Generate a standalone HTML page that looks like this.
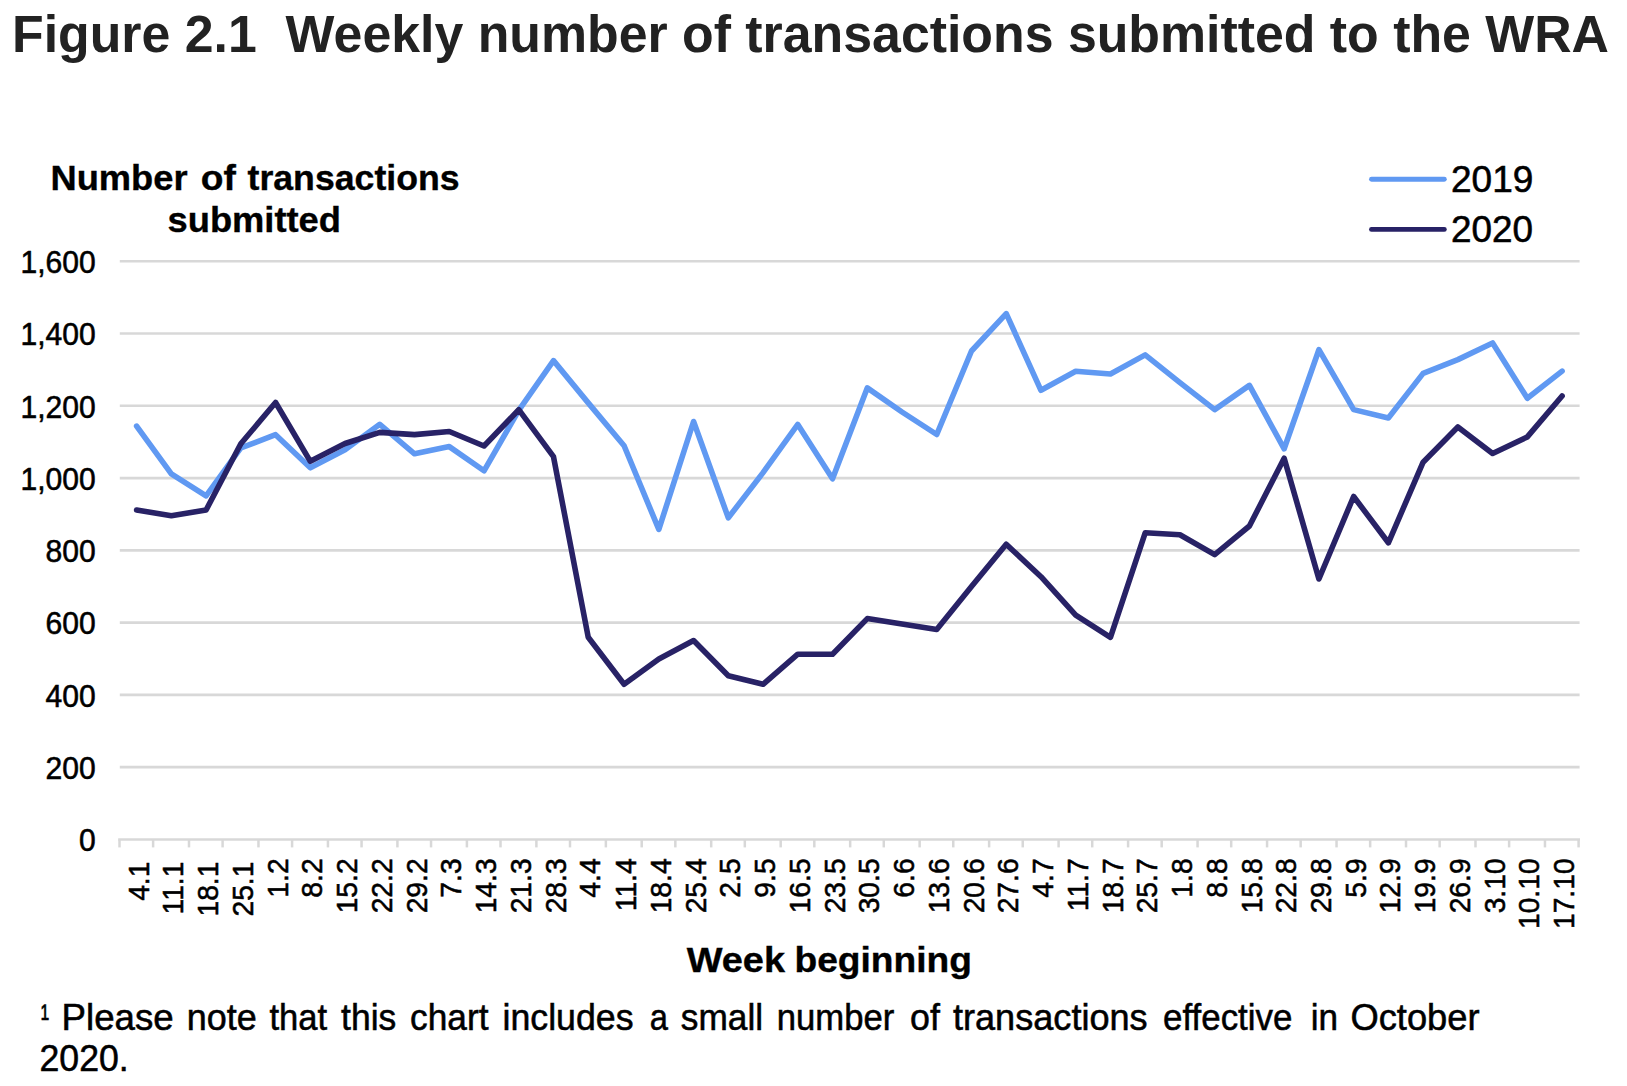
<!DOCTYPE html>
<html lang="en">
<head>
<meta charset="utf-8">
<title>Figure 2.1 Weekly number of transactions submitted to the WRA</title>
<style>
html,body{margin:0;padding:0;background:#fff;}
body{width:1627px;height:1086px;overflow:hidden;position:relative;font-family:"Liberation Sans", Arial, sans-serif;}
svg{position:absolute;left:0;top:0;display:block;}
text{font-family:"Liberation Sans", Arial, sans-serif;}
.t{font-weight:bold;fill:#222;}
.b{font-weight:bold;fill:#000;stroke:#000;stroke-width:0.35px;}
.n{fill:#000;stroke:#000;stroke-width:0.55px;}
</style>
</head>
<body>
<svg width="1627" height="1086" viewBox="0 0 1627 1086">

<text class="t" x="12.03" y="51.80" font-size="52.7" textLength="1597.03" lengthAdjust="spacingAndGlyphs" xml:space="preserve" style="white-space:pre">Figure 2.1  Weekly number of transactions submitted to the WRA</text>
<g stroke="#d8d8d8" stroke-width="2.55" fill="none">
<line x1="118.2" y1="839.40" x2="1580.0" y2="839.40" stroke-width="2.5"/>
<line x1="119.8" y1="767.14" x2="1579.6" y2="767.14"/>
<line x1="119.8" y1="694.88" x2="1579.6" y2="694.88"/>
<line x1="119.8" y1="622.62" x2="1579.6" y2="622.62"/>
<line x1="119.8" y1="550.36" x2="1579.6" y2="550.36"/>
<line x1="119.8" y1="478.10" x2="1579.6" y2="478.10"/>
<line x1="119.8" y1="405.84" x2="1579.6" y2="405.84"/>
<line x1="119.8" y1="333.58" x2="1579.6" y2="333.58"/>
<line x1="119.8" y1="261.32" x2="1579.6" y2="261.32"/>
</g>
<g stroke="#d8d8d8" stroke-width="2.5" fill="none">
<line x1="119.50" y1="839.40" x2="119.50" y2="847.40"/>
<line x1="153.12" y1="839.40" x2="153.12" y2="847.40"/>
<line x1="188.98" y1="839.40" x2="188.98" y2="847.40"/>
<line x1="222.60" y1="839.40" x2="222.60" y2="847.40"/>
<line x1="258.46" y1="839.40" x2="258.46" y2="847.40"/>
<line x1="292.08" y1="839.40" x2="292.08" y2="847.40"/>
<line x1="327.94" y1="839.40" x2="327.94" y2="847.40"/>
<line x1="361.56" y1="839.40" x2="361.56" y2="847.40"/>
<line x1="397.42" y1="839.40" x2="397.42" y2="847.40"/>
<line x1="431.04" y1="839.40" x2="431.04" y2="847.40"/>
<line x1="466.90" y1="839.40" x2="466.90" y2="847.40"/>
<line x1="500.52" y1="839.40" x2="500.52" y2="847.40"/>
<line x1="536.38" y1="839.40" x2="536.38" y2="847.40"/>
<line x1="570.00" y1="839.40" x2="570.00" y2="847.40"/>
<line x1="605.86" y1="839.40" x2="605.86" y2="847.40"/>
<line x1="641.72" y1="839.40" x2="641.72" y2="847.40"/>
<line x1="675.34" y1="839.40" x2="675.34" y2="847.40"/>
<line x1="711.20" y1="839.40" x2="711.20" y2="847.40"/>
<line x1="744.82" y1="839.40" x2="744.82" y2="847.40"/>
<line x1="780.68" y1="839.40" x2="780.68" y2="847.40"/>
<line x1="814.30" y1="839.40" x2="814.30" y2="847.40"/>
<line x1="850.16" y1="839.40" x2="850.16" y2="847.40"/>
<line x1="883.78" y1="839.40" x2="883.78" y2="847.40"/>
<line x1="919.64" y1="839.40" x2="919.64" y2="847.40"/>
<line x1="953.26" y1="839.40" x2="953.26" y2="847.40"/>
<line x1="989.12" y1="839.40" x2="989.12" y2="847.40"/>
<line x1="1022.74" y1="839.40" x2="1022.74" y2="847.40"/>
<line x1="1058.60" y1="839.40" x2="1058.60" y2="847.40"/>
<line x1="1092.22" y1="839.40" x2="1092.22" y2="847.40"/>
<line x1="1128.09" y1="839.40" x2="1128.09" y2="847.40"/>
<line x1="1161.70" y1="839.40" x2="1161.70" y2="847.40"/>
<line x1="1197.57" y1="839.40" x2="1197.57" y2="847.40"/>
<line x1="1231.18" y1="839.40" x2="1231.18" y2="847.40"/>
<line x1="1267.05" y1="839.40" x2="1267.05" y2="847.40"/>
<line x1="1300.67" y1="839.40" x2="1300.67" y2="847.40"/>
<line x1="1336.53" y1="839.40" x2="1336.53" y2="847.40"/>
<line x1="1370.15" y1="839.40" x2="1370.15" y2="847.40"/>
<line x1="1406.01" y1="839.40" x2="1406.01" y2="847.40"/>
<line x1="1439.63" y1="839.40" x2="1439.63" y2="847.40"/>
<line x1="1475.49" y1="839.40" x2="1475.49" y2="847.40"/>
<line x1="1509.11" y1="839.40" x2="1509.11" y2="847.40"/>
<line x1="1544.97" y1="839.40" x2="1544.97" y2="847.40"/>
<line x1="1578.59" y1="839.40" x2="1578.59" y2="847.40"/>
</g>
<g class="n" font-size="30.6" text-anchor="end">
<text transform="translate(95.6,851.1) scale(0.982,1)">0</text>
<text transform="translate(95.6,778.8) scale(0.982,1)">200</text>
<text transform="translate(95.6,706.6) scale(0.982,1)">400</text>
<text transform="translate(95.6,634.3) scale(0.982,1)">600</text>
<text transform="translate(95.6,562.1) scale(0.982,1)">800</text>
<text transform="translate(95.6,489.8) scale(0.982,1)">1,000</text>
<text transform="translate(95.6,417.5) scale(0.982,1)">1,200</text>
<text transform="translate(95.6,345.3) scale(0.982,1)">1,400</text>
<text transform="translate(95.6,273.0) scale(0.982,1)">1,600</text>
</g>
<g class="n" font-size="30.2" text-anchor="end">
<text transform="translate(148.71,861.6) rotate(-90) scale(0.9345,1)">4.1</text>
<text transform="translate(183.45,861.6) rotate(-90) scale(0.9345,1)">11.1</text>
<text transform="translate(218.19,861.6) rotate(-90) scale(0.9345,1)">18.1</text>
<text transform="translate(252.93,861.6) rotate(-90) scale(0.9345,1)">25.1</text>
<text transform="translate(287.67,858.4) rotate(-90) scale(0.9345,1)">1.2</text>
<text transform="translate(322.41,858.4) rotate(-90) scale(0.9345,1)">8.2</text>
<text transform="translate(357.15,858.4) rotate(-90) scale(0.9345,1)">15.2</text>
<text transform="translate(391.89,858.4) rotate(-90) scale(0.9345,1)">22.2</text>
<text transform="translate(426.63,858.4) rotate(-90) scale(0.9345,1)">29.2</text>
<text transform="translate(461.37,858.4) rotate(-90) scale(0.9345,1)">7.3</text>
<text transform="translate(496.11,858.4) rotate(-90) scale(0.9345,1)">14.3</text>
<text transform="translate(530.85,858.4) rotate(-90) scale(0.9345,1)">21.3</text>
<text transform="translate(565.59,858.4) rotate(-90) scale(0.9345,1)">28.3</text>
<text transform="translate(600.33,858.4) rotate(-90) scale(0.9345,1)">4.4</text>
<text transform="translate(636.19,858.4) rotate(-90) scale(0.9345,1)">11.4</text>
<text transform="translate(670.93,858.4) rotate(-90) scale(0.9345,1)">18.4</text>
<text transform="translate(705.67,858.4) rotate(-90) scale(0.9345,1)">25.4</text>
<text transform="translate(740.41,858.4) rotate(-90) scale(0.9345,1)">2.5</text>
<text transform="translate(775.15,858.4) rotate(-90) scale(0.9345,1)">9.5</text>
<text transform="translate(809.89,858.4) rotate(-90) scale(0.9345,1)">16.5</text>
<text transform="translate(844.63,858.4) rotate(-90) scale(0.9345,1)">23.5</text>
<text transform="translate(879.37,858.4) rotate(-90) scale(0.9345,1)">30.5</text>
<text transform="translate(914.11,858.4) rotate(-90) scale(0.9345,1)">6.6</text>
<text transform="translate(948.85,858.4) rotate(-90) scale(0.9345,1)">13.6</text>
<text transform="translate(983.59,858.4) rotate(-90) scale(0.9345,1)">20.6</text>
<text transform="translate(1018.33,858.4) rotate(-90) scale(0.9345,1)">27.6</text>
<text transform="translate(1053.07,858.4) rotate(-90) scale(0.9345,1)">4.7</text>
<text transform="translate(1087.81,858.4) rotate(-90) scale(0.9345,1)">11.7</text>
<text transform="translate(1122.55,858.4) rotate(-90) scale(0.9345,1)">18.7</text>
<text transform="translate(1157.29,858.4) rotate(-90) scale(0.9345,1)">25.7</text>
<text transform="translate(1192.03,858.4) rotate(-90) scale(0.9345,1)">1.8</text>
<text transform="translate(1226.78,858.4) rotate(-90) scale(0.9345,1)">8.8</text>
<text transform="translate(1261.52,858.4) rotate(-90) scale(0.9345,1)">15.8</text>
<text transform="translate(1296.26,858.4) rotate(-90) scale(0.9345,1)">22.8</text>
<text transform="translate(1331.00,858.4) rotate(-90) scale(0.9345,1)">29.8</text>
<text transform="translate(1365.74,858.4) rotate(-90) scale(0.9345,1)">5.9</text>
<text transform="translate(1400.48,858.4) rotate(-90) scale(0.9345,1)">12.9</text>
<text transform="translate(1435.22,858.4) rotate(-90) scale(0.9345,1)">19.9</text>
<text transform="translate(1469.96,858.4) rotate(-90) scale(0.9345,1)">26.9</text>
<text transform="translate(1504.70,858.4) rotate(-90) scale(0.9345,1)">3.10</text>
<text transform="translate(1539.44,858.4) rotate(-90) scale(0.9345,1)">10.10</text>
<text transform="translate(1574.18,858.4) rotate(-90) scale(0.9345,1)">17.10</text>
</g>
<polyline points="136.61,426.1 171.35,473.9 206.09,495.8 240.83,447.9 275.57,434.7 310.31,467.8 345.05,449.7 379.79,424.3 414.53,453.8 449.27,446.6 484.01,470.8 518.75,410.3 553.49,360.6 588.23,402.9 624.09,445.8 658.83,529.4 693.57,421.5 728.31,517.8 763.05,472.6 797.79,424.4 832.53,478.8 867.27,387.9 902.01,412.0 936.75,434.5 971.49,351.0 1006.23,313.6 1040.97,390.3 1075.71,371.2 1110.45,374.0 1145.19,354.9 1179.93,382.6 1214.68,409.6 1249.42,385.4 1284.16,448.8 1318.90,349.7 1353.64,409.6 1388.38,418.0 1423.12,373.4 1457.86,359.6 1492.60,343.0 1527.34,398.3 1562.08,371.1" fill="none" stroke="#6099f2" stroke-width="5.6" stroke-linejoin="round" stroke-linecap="round"/>
<polyline points="136.61,510.0 171.35,515.8 206.09,510.0 240.83,443.8 275.57,402.5 310.31,461.3 345.05,443.5 379.79,432.4 414.53,434.6 449.27,431.5 484.01,446.0 518.75,409.7 553.49,456.7 588.23,637.2 624.09,684.3 658.83,659.0 693.57,640.5 728.31,675.8 763.05,684.3 797.79,654.2 832.53,654.2 867.27,618.6 902.01,623.9 936.75,629.4 971.49,586.5 1006.23,544.3 1040.97,576.7 1075.71,615.1 1110.45,637.3 1145.19,532.8 1179.93,534.8 1214.68,554.6 1249.42,526.0 1284.16,458.2 1318.90,579.0 1353.64,496.5 1388.38,542.8 1423.12,462.2 1457.86,427.0 1492.60,453.5 1527.34,436.9 1562.08,396.0" fill="none" stroke="#282266" stroke-width="5.6" stroke-linejoin="round" stroke-linecap="round"/>
<line x1="1371.5" y1="179.3" x2="1444.3" y2="179.3" stroke="#6099f2" stroke-width="4.9" stroke-linecap="round"/>
<line x1="1371.5" y1="229.4" x2="1444.3" y2="229.4" stroke="#282266" stroke-width="4.9" stroke-linecap="round"/>
<text class="n" x="1451.04" y="191.60" font-size="36.2" textLength="82.31" lengthAdjust="spacingAndGlyphs">2019</text>
<text class="n" x="1451.05" y="241.70" font-size="36.2" textLength="81.99" lengthAdjust="spacingAndGlyphs">2020</text>
<text class="b" y="190.40" font-size="35.7"><tspan x="50.47" textLength="137.08" lengthAdjust="spacingAndGlyphs">Number</tspan> <tspan x="200.75" textLength="35.08" lengthAdjust="spacingAndGlyphs">of</tspan> <tspan x="247.56" textLength="212.00" lengthAdjust="spacingAndGlyphs">transactions</tspan></text>
<text class="b" x="167.52" y="232.20" font-size="35.7" textLength="173.47" lengthAdjust="spacingAndGlyphs">submitted</text>
<text class="b" y="972.30" font-size="35.7"><tspan x="686.66" textLength="98.40" lengthAdjust="spacingAndGlyphs">Week</tspan> <tspan x="794.45" textLength="177.44" lengthAdjust="spacingAndGlyphs">beginning</tspan></text>
<text class="n" y="1029.60" font-size="36.4"><tspan x="40.82" textLength="8.33" lengthAdjust="spacingAndGlyphs">¹</tspan> <tspan x="61.59" textLength="112.14" lengthAdjust="spacingAndGlyphs">Please</tspan> <tspan x="186.81" textLength="69.99" lengthAdjust="spacingAndGlyphs">note</tspan> <tspan x="269.38" textLength="57.68" lengthAdjust="spacingAndGlyphs">that</tspan> <tspan x="341.06" textLength="55.22" lengthAdjust="spacingAndGlyphs">this</tspan> <tspan x="410.10" textLength="78.36" lengthAdjust="spacingAndGlyphs">chart</tspan> <tspan x="502.51" textLength="130.98" lengthAdjust="spacingAndGlyphs">includes</tspan> <tspan x="649.71" textLength="18.19" lengthAdjust="spacingAndGlyphs">a</tspan> <tspan x="680.82" textLength="82.24" lengthAdjust="spacingAndGlyphs">small</tspan> <tspan x="776.80" textLength="117.48" lengthAdjust="spacingAndGlyphs">number</tspan> <tspan x="910.00" textLength="29.85" lengthAdjust="spacingAndGlyphs">of</tspan> <tspan x="952.95" textLength="194.75" lengthAdjust="spacingAndGlyphs">transactions</tspan> <tspan x="1163.12" textLength="129.23" lengthAdjust="spacingAndGlyphs">effective</tspan> <tspan x="1310.75" textLength="27.33" lengthAdjust="spacingAndGlyphs">in</tspan> <tspan x="1350.48" textLength="129.02" lengthAdjust="spacingAndGlyphs">October</tspan></text>
<text class="n" x="39.51" y="1070.70" font-size="36.4" textLength="89.25" lengthAdjust="spacingAndGlyphs">2020.</text>
</svg>
</body>
</html>
